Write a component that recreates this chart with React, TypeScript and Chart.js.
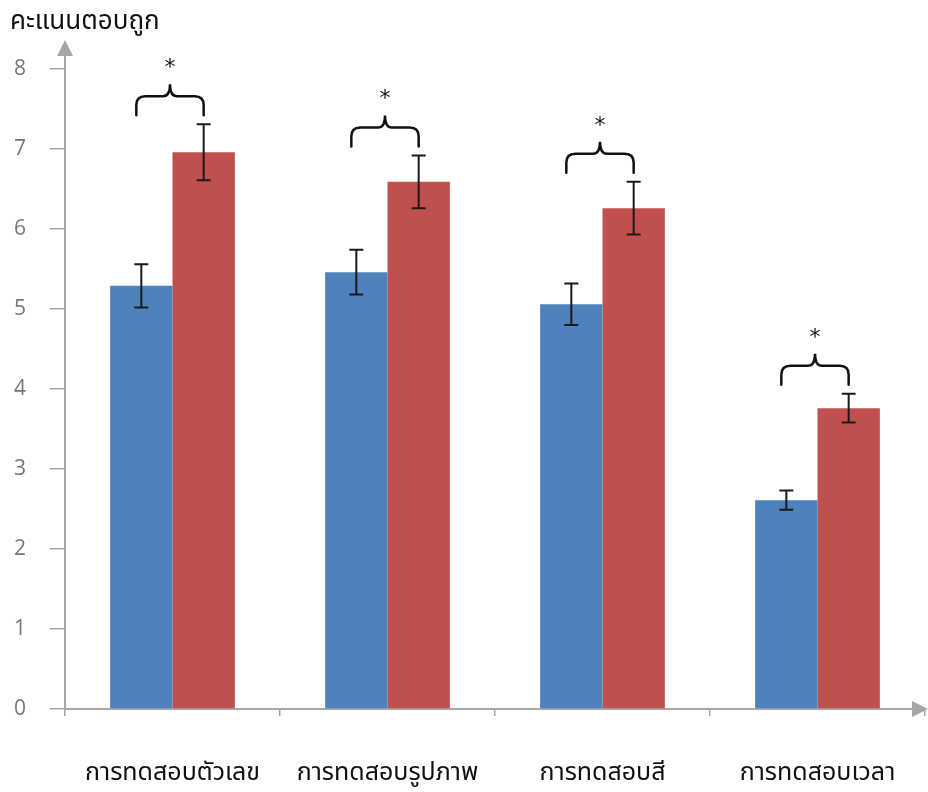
import React, { useEffect, useRef } from "react";
import { Chart, registerables } from "chart.js";

Chart.register(...registerables);

const categories = ["การทดสอบตัวเลข", "การทดสอบรูปภาพ", "การทดสอบสี", "การทดสอบเวลา"];
const blueValues = [5.29, 5.46, 5.06, 2.61];
const blueErrors = [0.27, 0.28, 0.26, 0.12];
const redValues = [6.96, 6.59, 6.26, 3.76];
const redErrors = [0.35, 0.33, 0.33, 0.18];
const significance = ["*", "*", "*", "*"];
const yMin = 0;
const yMax = 8;
const yStep = 1;
const yTitle = "คะแนนตอบถูก";

const BLUE = "#4F81BD";
const RED = "#C0504D";
const AXIS = "#a6a6a6";
const THAI_FONT = '"Noto Sans Thai", "Noto Sans Thai UI", "Noto Sans", Tahoma, sans-serif';

const errorBarPlugin = {
  id: "errorBars",
  afterDatasetsDraw(chart: any) {
    const ctx = chart.ctx;
    const y = chart.scales.y;
    const errs = [blueErrors, redErrors];
    ctx.save();
    ctx.strokeStyle = "#1a1a1a";
    ctx.lineWidth = 2;
    chart.data.datasets.forEach((ds: any, i: number) => {
      const meta = chart.getDatasetMeta(i);
      meta.data.forEach((bar: any, j: number) => {
        const v = ds.data[j];
        const e = errs[i][j];
        const x = bar.x;
        const yt = y.getPixelForValue(v + e);
        const yb = y.getPixelForValue(v - e);
        ctx.beginPath();
        ctx.moveTo(x, yt);
        ctx.lineTo(x, yb);
        ctx.moveTo(x - 7, yt);
        ctx.lineTo(x + 7, yt);
        ctx.moveTo(x - 7, yb);
        ctx.lineTo(x + 7, yb);
        ctx.stroke();
      });
    });
    ctx.restore();
  },
};

const bracePlugin = {
  id: "braces",
  afterDatasetsDraw(chart: any) {
    const ctx = chart.ctx;
    const y = chart.scales.y;
    const m0 = chart.getDatasetMeta(0);
    const m1 = chart.getDatasetMeta(1);
    ctx.save();
    ctx.strokeStyle = "#111";
    ctx.lineWidth = 2.5;
    ctx.lineCap = "round";
    significance.forEach((mark, j) => {
      if (!mark) return;
      const L = m0.data[j].x - 5;
      const R = m1.data[j].x;
      const top = Math.max(redValues[j] + redErrors[j], blueValues[j] + blueErrors[j]);
      const B = y.getPixelForValue(top) - 9;
      const T = B - 31;
      const arm = T + 12;
      const mid = (L + R) / 2;
      const r = 9;
      ctx.beginPath();
      ctx.moveTo(L, B);
      ctx.lineTo(L, arm + r);
      ctx.quadraticCurveTo(L, arm, L + r, arm);
      ctx.lineTo(mid - 7, arm);
      ctx.quadraticCurveTo(mid, arm, mid, T);
      ctx.quadraticCurveTo(mid, arm, mid + 7, arm);
      ctx.lineTo(R - r, arm);
      ctx.quadraticCurveTo(R, arm, R, arm + r);
      ctx.lineTo(R, B);
      ctx.stroke();
      ctx.fillStyle = "#111";
      ctx.font = '22px "DejaVu Sans", sans-serif';
      ctx.textAlign = "center";
      ctx.textBaseline = "middle";
      ctx.fillText(mark, mid, T - 16);
    });
    ctx.restore();
  },
};

const arrowPlugin = {
  id: "axisArrows",
  afterDraw(chart: any) {
    const ctx = chart.ctx;
    const a = chart.chartArea;
    ctx.save();
    ctx.strokeStyle = AXIS;
    ctx.fillStyle = AXIS;
    ctx.lineWidth = 2;
    ctx.beginPath();
    ctx.moveTo(a.left, a.top);
    ctx.lineTo(a.left, a.top - 14);
    ctx.stroke();
    ctx.beginPath();
    ctx.moveTo(a.left - 8, a.top - 13);
    ctx.lineTo(a.left + 8, a.top - 13);
    ctx.lineTo(a.left, a.top - 29);
    ctx.closePath();
    ctx.fill();
    ctx.beginPath();
    ctx.moveTo(a.right - 13, a.bottom - 8);
    ctx.lineTo(a.right - 13, a.bottom + 8);
    ctx.lineTo(a.right + 3, a.bottom);
    ctx.closePath();
    ctx.fill();
    ctx.restore();
  },
};

export default function App() {
  const ref = useRef<HTMLCanvasElement | null>(null);

  useEffect(() => {
    if (!ref.current) return;
    const chart = new Chart(ref.current, {
      type: "bar",
      data: {
        labels: categories,
        datasets: [
          { label: "A", data: blueValues, backgroundColor: BLUE, borderWidth: 0 },
          { label: "B", data: redValues, backgroundColor: RED, borderWidth: 0 },
        ],
      },
      options: {
        responsive: false,
        animation: false,
        layout: { padding: { left: 10, right: 3, top: 0, bottom: 0 } },
        datasets: { bar: { categoryPercentage: 0.58, barPercentage: 1 } },
        plugins: {
          legend: { display: false },
          tooltip: { enabled: false },
          title: {
            display: true,
            text: yTitle,
            align: "start",
            color: "#111",
            font: { family: THAI_FONT, size: 26, weight: "normal" },
            padding: { top: 8, bottom: 29.8 },
          },
        },
        scales: {
          x: {
            afterFit: (s: any) => { s.height = 83; s.paddingLeft = 0; s.paddingRight = 0; },
            border: { display: true, color: AXIS, width: 2 },
            grid: { display: true, offset: true, drawOnChartArea: false, drawTicks: true, tickLength: 7, color: AXIS, lineWidth: 1.5 },
            ticks: { color: "#111", padding: 44, font: { family: THAI_FONT, size: 25 }, maxRotation: 0 },
          },
          y: {
            min: yMin,
            max: yMax,
            afterFit: (s: any) => { s.width = 55; },
            border: { display: true, color: AXIS, width: 2 },
            grid: { display: true, drawOnChartArea: false, drawTicks: true, tickLength: 15, color: AXIS, lineWidth: 1.5 },
            ticks: { stepSize: yStep, color: "#777", padding: 24, font: { family: '"Open Sans", sans-serif', size: 21 } },
          },
        },
      },
      plugins: [errorBarPlugin, bracePlugin, arrowPlugin],
    });
    return () => chart.destroy();
  }, []);

  return (
    <div style={{ position: "absolute", left: 0, top: 0, width: 928, height: 792, background: "#fff" }}>
      <canvas ref={ref} width={928} height={792} style={{ display: "block" }} />
    </div>
  );
}
